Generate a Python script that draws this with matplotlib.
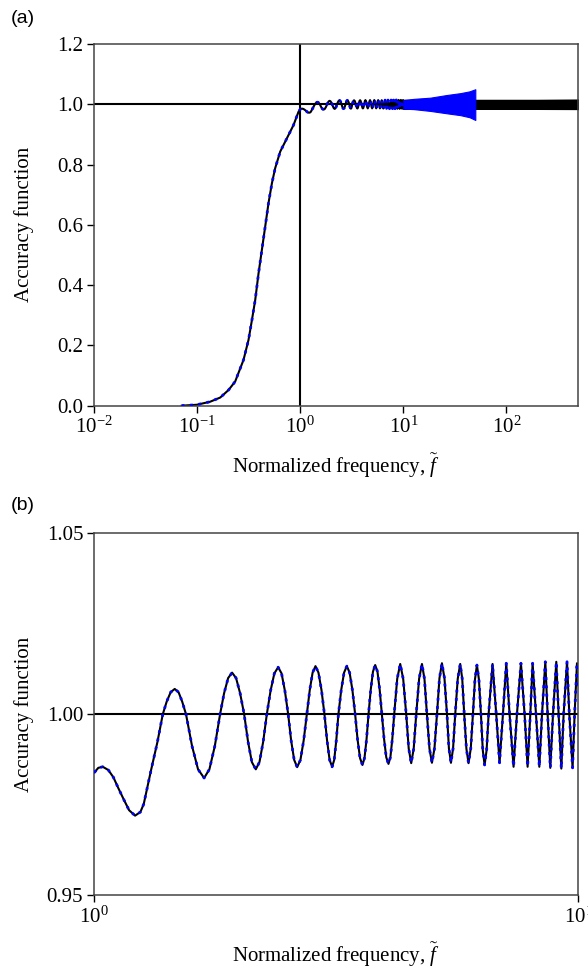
import numpy as np
import matplotlib
matplotlib.use('Agg')
import matplotlib.pyplot as plt

plt.rcParams['font.family'] = 'Liberation Serif'
plt.rcParams['mathtext.fontset'] = 'custom'
plt.rcParams['mathtext.rm'] = 'Liberation Serif'
plt.rcParams['mathtext.it'] = 'Liberation Serif:italic'
plt.rcParams['font.size'] = 15

# rising part of the accuracy function
sig_f = [0.0706, 0.0988, 0.133, 0.167, 0.201, 0.233, 0.281, 0.314, 0.339, 0.365,
         0.393, 0.424, 0.456, 0.491, 0.530, 0.570, 0.638, 0.741, 0.859, 0.960]
sig_a = [0.000, 0.003, 0.013, 0.027, 0.052, 0.080, 0.152, 0.218, 0.284, 0.351,
         0.439, 0.517, 0.594, 0.672, 0.738, 0.788, 0.843, 0.887, 0.931, 0.975]

# oscillating part between 1 and 10
osc_f = [1.000, 1.019, 1.041, 1.069, 1.095, 1.121, 1.150, 1.180, 1.214, 1.245,
         1.265, 1.283, 1.310, 1.350, 1.385, 1.411, 1.438, 1.466, 1.493, 1.519,
         1.547, 1.592, 1.638, 1.686, 1.729, 1.774, 1.819, 1.854, 1.890, 1.926,
         1.963, 2.001, 2.040, 2.078, 2.116, 2.156, 2.194, 2.233, 2.272, 2.313,
         2.355, 2.398, 2.437, 2.476, 2.515, 2.551, 2.588, 2.625, 2.666, 2.707,
         2.749, 2.787, 2.825, 2.864, 2.905, 2.947, 2.989, 3.026, 3.063, 3.100,
         3.131, 3.162, 3.194, 3.237, 3.281, 3.325, 3.369, 3.414, 3.459, 3.499,
         3.540, 3.581, 3.616, 3.651, 3.686, 3.725, 3.765, 3.805, 3.846, 3.887,
         3.928, 3.969, 4.011, 4.053, 4.090, 4.128, 4.165, 4.225, 4.286, 4.347,
         4.410, 4.463, 4.516, 4.570, 4.625, 4.689, 4.753, 4.810, 4.867, 4.926,
         4.984, 5.044, 5.105, 5.166, 5.227, 5.290, 5.354, 5.404, 5.456, 5.511,
         5.568, 5.635, 5.702, 5.757, 5.812, 5.872, 5.932, 5.995, 6.057, 6.116,
         6.174, 6.233, 6.293, 6.348, 6.403, 6.465, 6.526, 6.650, 6.768, 6.875,
         6.987, 7.099, 7.211, 7.349, 7.468, 7.612, 7.745, 7.857, 7.959, 8.046,
         8.177, 8.307, 8.414, 8.548, 8.642, 8.753, 8.866, 9.006, 9.106, 9.224,
         9.325, 9.478, 9.581, 9.732, 9.826, 9.938, 10.00]
osc_a = [0.9839, 0.9852, 0.9855, 0.9846, 0.9826, 0.9796, 0.9765, 0.9735, 0.9720, 0.9730,
         0.9752, 0.9790, 0.9846, 0.9923, 1.0000, 1.0035, 1.0061, 1.0070, 1.0061, 1.0035,
         1.0000, 0.9912, 0.9848, 0.9824, 0.9848, 0.9912, 1.0000, 1.0058, 1.0100, 1.0115,
         1.0100, 1.0058, 1.0000, 0.9924, 0.9868, 0.9848, 0.9868, 0.9924, 1.0000, 1.0065,
         1.0113, 1.0130, 1.0113, 1.0065, 1.0000, 0.9927, 0.9874, 0.9854, 0.9874, 0.9927,
         1.0000, 1.0067, 1.0115, 1.0133, 1.0115, 1.0067, 1.0000, 0.9928, 0.9874, 0.9855,
         0.9874, 0.9928, 1.0000, 1.0067, 1.0115, 1.0133, 1.0115, 1.0067, 1.0000, 0.9930,
         0.9879, 0.9860, 0.9879, 0.9930, 1.0000, 1.0068, 1.0118, 1.0136, 1.0118, 1.0068,
         1.0000, 0.9932, 0.9881, 0.9863, 0.9881, 0.9932, 1.0000, 1.0098, 1.0139, 1.0098,
         1.0000, 0.9905, 0.9865, 0.9905, 1.0000, 1.0098, 1.0139, 1.0098, 1.0000, 0.9905,
         0.9866, 0.9905, 1.0000, 1.0100, 1.0141, 1.0100, 1.0000, 0.9905, 0.9866, 0.9905,
         1.0000, 1.0098, 1.0139, 1.0098, 1.0000, 0.9905, 0.9865, 0.9905, 1.0000, 1.0096,
         1.0136, 1.0096, 1.0000, 0.9901, 0.9860, 0.9901, 1.0000, 1.0139, 1.0000, 0.9866,
         1.0000, 1.0141, 1.0000, 0.9855, 1.0000, 1.0141, 1.0000, 0.9855, 1.0000, 1.0141,
         1.0000, 0.9855, 1.0000, 1.0145, 1.0000, 0.9852, 1.0000, 1.0145, 1.0000, 0.9850,
         1.0000, 1.0145, 1.0000, 0.9852, 1.0000, 1.0141, 1.0080]

# envelopes of the dense oscillation above f = 10 (panel a)
band_f = [10, 50, 100, 200, 500]
band_hi = [1.0140, 1.0140, 1.0140, 1.0140, 1.0150]
band_lo = [0.9855, 0.9855, 0.9855, 0.9855, 0.9850]
blue_f = [10, 12.6, 18.3, 26.6, 35.8, 44, 50]
blue_hi = [1.0140, 1.018, 1.022, 1.031, 1.037, 1.043, 1.050]
blue_lo = [0.9855, 0.984, 0.978, 0.970, 0.964, 0.957, 0.948]

xticks_a = [1e-2, 1e-1, 1e0, 1e1, 1e2]
xlabels_a = [r'$10^{-2}$', r'$10^{-1}$', r'$10^{0}$', r'$10^{1}$', r'$10^{2}$']
yticks_a = [0.0, 0.2, 0.4, 0.6, 0.8, 1.0, 1.2]
xticks_b = [1e0, 1e1]
xlabels_b = [r'$10^{0}$', r'$10^{1}$']
yticks_b = [0.95, 1.00, 1.05]

f_all = sig_f + osc_f
a_all = sig_a + osc_a

fig = plt.figure(figsize=(5.88, 9.74), dpi=100)
ax1 = fig.add_axes([0.1604, 0.5835, 0.8231, 0.3713])
ax2 = fig.add_axes([0.1604, 0.0808, 0.8231, 0.3717])

dots = (0, (1.0, 2.0))

# panel (a)
ax1.axhline(1.0, color='k', lw=1.5, zorder=1)
ax1.axvline(1.0, color='k', lw=1.5, zorder=1)
ax1.plot(f_all, a_all, color='k', lw=1.5, zorder=2)
ax1.fill_between(band_f, band_lo, band_hi, color='k', lw=1.2, zorder=2)
ax1.plot(f_all, a_all, color='b', lw=2.0, ls=dots, zorder=3)
ax1.fill_between(blue_f, blue_lo, blue_hi, color='b', lw=0.8, zorder=3)
ax1.set_xscale('log')
ax1.set_xlim(1e-2, 500)
ax1.set_ylim(0, 1.2)
ax1.set_xticks(xticks_a, xlabels_a)
ax1.set_yticks(yticks_a, ['%.1f' % v for v in yticks_a])
ax1.set_xlabel(r'Normalized frequency, $\tilde{f}$')
ax1.set_ylabel('Accuracy function')

# panel (b)
ax2.axhline(1.0, color='k', lw=1.5, zorder=1)
ax2.plot(osc_f, osc_a, color='k', lw=1.5, zorder=2)
ax2.plot(osc_f, osc_a, color='b', lw=2.0, ls=dots, zorder=3)
ax2.set_xscale('log')
ax2.set_xlim(1, 10)
ax2.set_ylim(0.95, 1.05)
ax2.set_xticks(xticks_b, xlabels_b)
ax2.set_yticks(yticks_b, ['%.2f' % v for v in yticks_b])
ax2.set_xlabel(r'Normalized frequency, $\tilde{f}$')
ax2.set_ylabel('Accuracy function')

for ax in (ax1, ax2):
    ax.xaxis.set_minor_locator(plt.NullLocator())
    ax.tick_params(direction='out', length=5, width=1, pad=3, labelsize=15)
    for s in ax.spines.values():
        s.set_linewidth(1.1)
        s.set_color('#444444')
    ax.yaxis.set_label_coords(-0.125, 0.5)
    ax.xaxis.set_label_coords(0.5, -0.125)

fig.text(0.019, 0.9815, '(a)', family='Liberation Sans', fontsize=14, va='center')
fig.text(0.019, 0.4815, '(b)', family='Liberation Sans', fontsize=14, va='center')

fig.savefig('out.png', dpi=100)
